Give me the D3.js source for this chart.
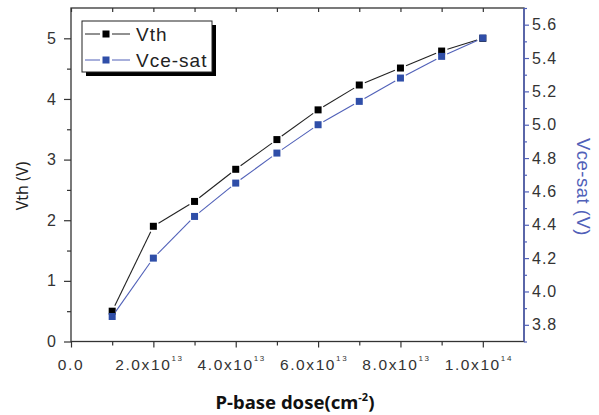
<!DOCTYPE html>
<html>
<head>
<meta charset="utf-8">
<script src="https://cdn.jsdelivr.net/npm/d3@7"></script>
<style>
  body { margin: 0; background: #fff; }
  text { font-family: "Liberation Sans", Arial, sans-serif; }
</style>
</head>
<body>
<svg id="chart" width="599" height="415"></svg>
<script>
// data
var doses = [1e13, 2e13, 3e13, 4e13, 5e13, 6e13, 7e13, 8e13, 9e13, 1e14];
var vth = [0.50, 1.90, 2.31, 2.84, 3.33, 3.82, 4.23, 4.51, 4.79, 5.00];
var vceSat = [3.85, 4.20, 4.45, 4.65, 4.83, 5.00, 5.14, 5.28, 5.41, 5.52];
var xTicks = [0, 2e13, 4e13, 6e13, 8e13, 1e14];
var yLeftTicks = [0, 1, 2, 3, 4, 5];
var yRightTicks = [3.8, 4.0, 4.2, 4.4, 4.6, 4.8, 5.0, 5.2, 5.4, 5.6];

var blue = "#2f4ea8";
var blueAxis = "#5060b8";

var pL = 71, pR = 524, pT = 8, pB = 341.5;
var svg = d3.select("#chart");

var x = d3.scaleLinear().domain([0, 1.1e14]).range([pL, pR]);
var yL = d3.scaleLinear().domain([0, 5.5]).range([pB, pT]);
var yR = d3.scaleLinear().domain([3.7, 5.7]).range([pB, pT]);

// frame
svg.append("rect").attr("x", pL).attr("y", pT)
  .attr("width", pR - pL).attr("height", pB - pT)
  .attr("fill", "none").attr("stroke", "#333").attr("stroke-width", 1.3);

function fmtX(d) {
  if (d === 0) return null;
  var e = Math.floor(Math.log10(d) + 1e-9);
  return [(d / Math.pow(10, e)).toFixed(1) + "x10", String(e)];
}

function tidy(g, color) {
  g.select(".domain").remove();
  g.selectAll(".tick line").attr("stroke", color).attr("stroke-width", 1.2);
}

// bottom axis
var xMinorVals = d3.range(1, 11, 2).map(function (k) { return k * 1e13; });
tidy(svg.append("g").attr("transform", "translate(0," + pB + ")")
  .call(d3.axisBottom(x).tickValues(xTicks).tickSize(6).tickFormat("")), "#333");
tidy(svg.append("g").attr("transform", "translate(0," + pB + ")")
  .call(d3.axisBottom(x).tickValues(xMinorVals).tickSize(4).tickFormat("")), "#333");

xTicks.forEach(function (d) {
  var t = svg.append("text").attr("x", x(d) - (d ? 4 : 0)).attr("y", pB + 28)
    .attr("text-anchor", "middle").attr("font-size", 15.5).attr("fill", "#333")
    .attr("letter-spacing", 1.6);
  var f = fmtX(d);
  if (!f) { t.text("0.0"); return; }
  t.append("tspan").text(f[0]);
  t.append("tspan").attr("dy", -9).attr("font-size", 8).text(f[1]);
});

// top axis ticks (inward)
tidy(svg.append("g").attr("transform", "translate(0," + pT + ")")
  .call(d3.axisBottom(x).tickValues(xTicks.concat(xMinorVals)).tickSize(4).tickFormat("")), "#333");

// left axis
var yAx = svg.append("g").attr("transform", "translate(" + pL + ",0)")
  .call(d3.axisLeft(yL).tickValues(yLeftTicks).tickSize(7).tickFormat(d3.format("d")));
tidy(yAx, "#333");
yAx.selectAll(".tick text").attr("font-size", 16).attr("fill", "#333").attr("x", -15)
  .style("font-family", "Liberation Sans, Arial, sans-serif");
tidy(svg.append("g").attr("transform", "translate(" + pL + ",0)")
  .call(d3.axisLeft(yL).tickValues([0.5, 1.5, 2.5, 3.5, 4.5]).tickSize(4).tickFormat("")), "#333");

// right axis (blue)
svg.append("line").attr("x1", pR).attr("x2", pR).attr("y1", pT).attr("y2", pB)
  .attr("stroke", blueAxis).attr("stroke-width", 1.5);
var yRAx = svg.append("g").attr("transform", "translate(" + pR + ",0)")
  .call(d3.axisRight(yR).tickValues(yRightTicks).tickSize(5).tickFormat(d3.format(".1f")));
tidy(yRAx, blueAxis);
yRAx.selectAll(".tick text").attr("font-size", 16).attr("fill", "#333").attr("x", 8)
  .attr("letter-spacing", 1)
  .style("font-family", "Liberation Sans, Arial, sans-serif");
tidy(svg.append("g").attr("transform", "translate(" + pR + ",0)")
  .call(d3.axisRight(yR).tickValues([3.7, 3.9, 4.1, 4.3, 4.5, 4.7, 4.9, 5.1, 5.3, 5.5, 5.7]).tickSize(3).tickFormat("")), blueAxis);

// axis titles
svg.append("text").attr("transform", "translate(28,186) rotate(-90)")
  .attr("text-anchor", "middle").attr("font-size", 16).attr("fill", "#222")
  .style("font-family", "Noto Sans, sans-serif").text("Vth (V)");
svg.append("text").attr("transform", "translate(577,187) rotate(90)")
  .attr("text-anchor", "middle").attr("font-size", 18.5).attr("fill", blueAxis)
  .attr("letter-spacing", 0.5).text("Vce-sat (V)");
var xt = svg.append("text").attr("x", 295).attr("y", 409).attr("text-anchor", "middle")
  .attr("font-size", 18.5).attr("font-weight", "bold").attr("fill", "#111")
  .style("font-family", "Noto Sans, sans-serif");
xt.append("tspan").text("P-base dose(cm");
xt.append("tspan").attr("dy", -8).attr("font-size", 11).text("-2");
xt.append("tspan").attr("dy", 8).text(")");

// series: segments with small gaps at the markers
function drawSeries(vals, yScale, color, lineColor) {
  var pts = doses.map(function (d, i) { return [x(d), yScale(vals[i])]; });
  var g = svg.append("g");
  for (var i = 0; i < pts.length - 1; i++) {
    var a = pts[i], b = pts[i + 1];
    var dx = b[0] - a[0], dy = b[1] - a[1], len = Math.hypot(dx, dy), gap = 6;
    g.append("line")
      .attr("x1", a[0] + dx / len * gap).attr("y1", a[1] + dy / len * gap)
      .attr("x2", b[0] - dx / len * gap).attr("y2", b[1] - dy / len * gap)
      .attr("stroke", lineColor).attr("stroke-width", 1.1);
  }
  g.selectAll("rect").data(pts).enter().append("rect")
    .attr("x", function (p) { return p[0] - 3.5; })
    .attr("y", function (p) { return p[1] - 3.5; })
    .attr("width", 7).attr("height", 7).attr("fill", color);
}
drawSeries(vth, yL, "#000", "#222");
drawSeries(vceSat, yR, blue, "#5060b8");

// legend
var lg = svg.append("g");
lg.append("rect").attr("x", 86).attr("y", 25).attr("width", 130).attr("height", 51).attr("fill", "#000");
lg.append("rect").attr("x", 82).attr("y", 21).attr("width", 130).attr("height", 51)
  .attr("fill", "#fff").attr("stroke", "#222").attr("stroke-width", 1);
var items = [["Vth", "#000", "#222"], ["Vce-sat", blue, "#5060b8"]];
items.forEach(function (it, i) {
  var yy = 34 + i * 26;
  lg.append("line").attr("x1", 85).attr("x2", 100).attr("y1", yy).attr("y2", yy).attr("stroke", it[2]);
  lg.append("line").attr("x1", 112).attr("x2", 130).attr("y1", yy).attr("y2", yy).attr("stroke", it[2]);
  lg.append("rect").attr("x", 102.5).attr("y", yy - 3.5).attr("width", 7).attr("height", 7).attr("fill", it[1]);
  lg.append("text").attr("x", 136).attr("y", yy + 7).attr("font-size", 19).attr("fill", "#222")
    .attr("letter-spacing", 1).text(it[0]);
});
</script>
</body>
</html>
